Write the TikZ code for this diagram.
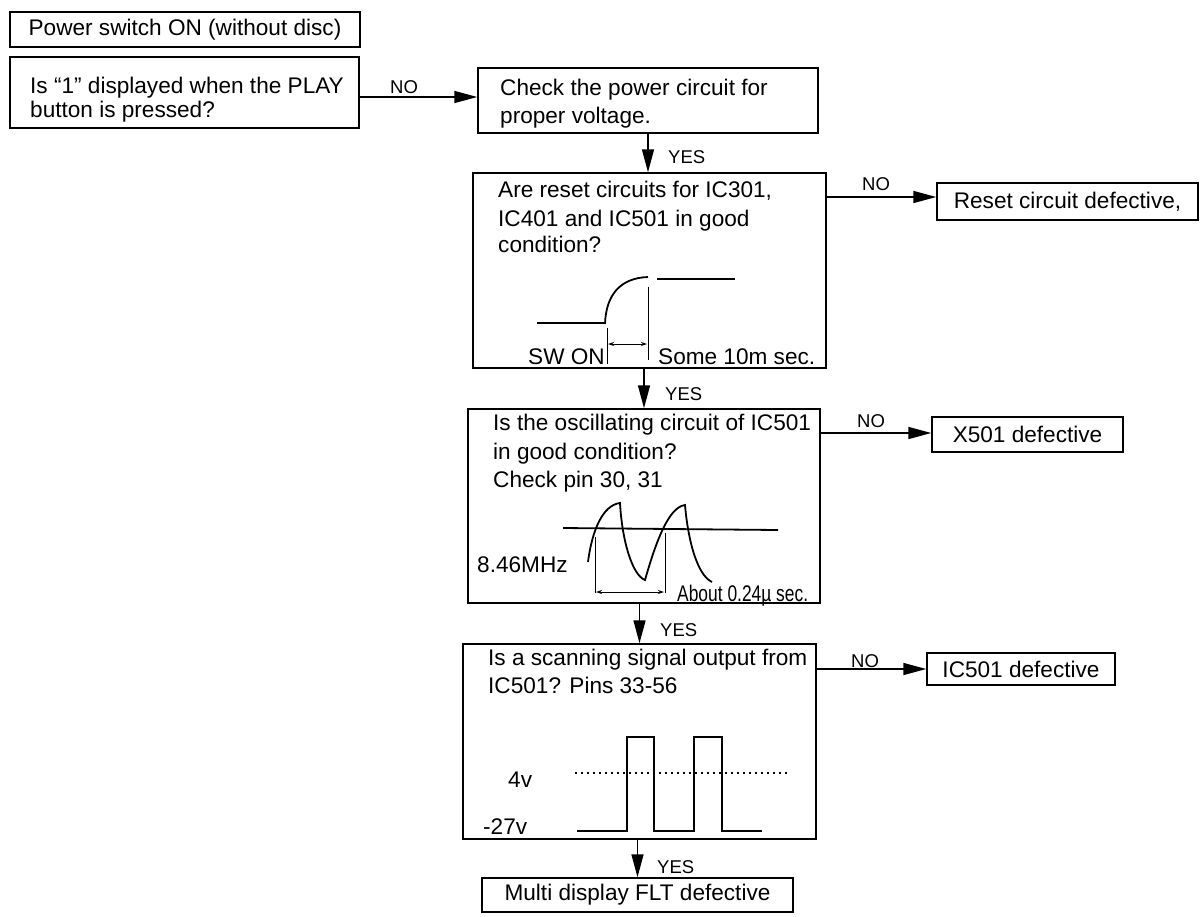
\documentclass[tikz,border=0pt]{standalone}
\usepackage{fontspec}
\setmainfont{Liberation Sans}
\usetikzlibrary{arrows.meta}
\begin{document}
\begin{tikzpicture}[x=1pt,y=-1pt,
  box/.style={draw,line width=1.5pt,inner sep=0pt,font=\fontsize{22.6}{27}\selectfont},
  txt/.style={anchor=base west,inner sep=0pt,font=\fontsize{22.6}{27}\selectfont},
  lbl/.style={anchor=base west,inner sep=0pt,font=\fontsize{18.5}{22}\selectfont},
  arr/.style={line width=1.5pt,-{Triangle[length=23pt,width=12pt]}},
  wave/.style={line width=1.8pt},
  thin/.style={line width=1pt},
  dimarr/.style={line width=1pt,{Stealth[length=6pt,width=4pt]}-{Stealth[length=6pt,width=4pt]}}]
\useasboundingbox (0,0) rectangle (1202,916);
% boxes
\node[box,minimum width=350pt,minimum height=35pt] (b0) at (185,29.5) {Power switch ON (without disc)};
\node[box,minimum width=349pt,minimum height=71pt] (b1) at (184.5,92.5) {};
\node[box,minimum width=340pt,minimum height=65pt] (b2) at (648,100.5) {};
\node[box,minimum width=353pt,minimum height=195pt] (b3) at (649.5,270.5) {};
\node[box,minimum width=352pt,minimum height=194pt] (b4) at (644,506) {};
\node[box,minimum width=353pt,minimum height=195pt] (b5) at (639.5,741.5) {};
\node[box,minimum width=311pt,minimum height=34pt] (b6) at (637.5,895) {Multi display FLT defective};
\node[box,minimum width=261pt,minimum height=37pt] (r1) at (1067.5,201.5) {Reset circuit defective,};
\node[box,minimum width=191pt,minimum height=35pt] (r2) at (1027.5,434.5) {X501 defective};
\node[box,minimum width=188pt,minimum height=32pt] (r3) at (1021,669) {IC501 defective};
% texts
\node[txt] (t1a) at (30,93) {Is “1” displayed when the PLAY};
\node[txt] (t1b) at (30,117) {button is pressed?};
\node[txt] (t2a) at (500,95) {Check the power circuit for};
\node[txt] (t2b) at (500,123) {proper voltage.};
\node[txt] (t3a) at (498,197) {Are reset circuits for IC301,};
\node[txt] (t3b) at (498,226) {IC401 and IC501 in good};
\node[txt] (t3c) at (498,252) {condition?};
\node[txt] (t3d) at (528,364) {SW ON};
\node[txt] (t3e) at (658,364) {Some 10m sec.};
\node[txt] (t4a) at (493,430) {Is the oscillating circuit of IC501};
\node[txt] (t4b) at (493,459) {in good condition?};
\node[txt] (t4c) at (493,487) {Check pin 30, 31};
\node[txt] (t4d) at (477,572) {8.46MHz};
\node[txt] (t4e) at (677,601) {\scalebox{0.77}[1]{About 0.24µ sec.}};
\node[txt] (t5a) at (488,665) {Is a scanning signal output from};
\node[txt] (t5b) at (488,693) {IC501? Pins 33-56};
\node[txt] (t5c) at (508,787) {4v};
\node[txt] (t5d) at (483,834) {-27v};
% connectors
\draw[arr] (b1.east |- 0,97) -- (b2.west |- 0,97);
\node[lbl] (n1) at (390,93) {NO};
\draw[arr] (b2.south) -- (b2.south |- b3.north);
\node[lbl] (y1) at (668,163) {YES};
\draw[arr] (b3.east |- 0,197) -- (r1.west |- 0,197);
\node[lbl] (n2) at (862,190) {NO};
\draw[arr] (b4.north |- b3.south) -- (b4.north);
\node[lbl] (y2) at (665,400) {YES};
\draw[arr] (b4.east |- 0,433) -- (r2.west |- 0,433);
\node[lbl] (n3) at (857,427) {NO};
\draw[arr] (b5.north |- b4.south) -- (b5.north);
\node[lbl] (y3) at (660,636) {YES};
\draw[arr] (b5.east |- 0,669) -- (r3.west |- 0,669);
\node[lbl] (n4) at (851,667) {NO};
\draw[arr] (b6.north |- b5.south) -- (b6.north);
\node[lbl] (y4) at (657,873) {YES};
% reset waveform
\draw[line width=2.6pt] (537,323) -- (605,323);
\draw[wave] (605,324) .. controls (606,295) and (620,278) .. (648,277);
\draw[wave] (657,279) -- (735,279);
\draw[thin] (607,328) -- (607,364);
\draw[thin] (648,287) -- (648,360);
\draw[dimarr] (608,344) -- (647,344);
% oscillator waveform
\draw[wave] (563,528) -- (778,530);
\draw[wave] (588,562) .. controls (592,530) and (603,505) .. (620,503)
  .. controls (622,540) and (632,575) .. (645,580)
  .. controls (655,545) and (668,507) .. (685,505)
  .. controls (688,540) and (697,575) .. (712,582);
\draw[thin] (595,537) -- (595,593);
\draw[thin] (665,533) -- (665,593);
\draw[dimarr] (596,592) -- (664,592);
% scanning waveform
\draw[wave] (577,831) -- (627,831) -- (627,737) -- (654,737) -- (654,831) -- (694,831) -- (694,737) -- (722,737) -- (722,831) -- (762,831);
\draw[line width=1.4pt,dash pattern=on 1.5pt off 4.5pt] (575,773) -- (787,773);
\end{tikzpicture}
\end{document}
